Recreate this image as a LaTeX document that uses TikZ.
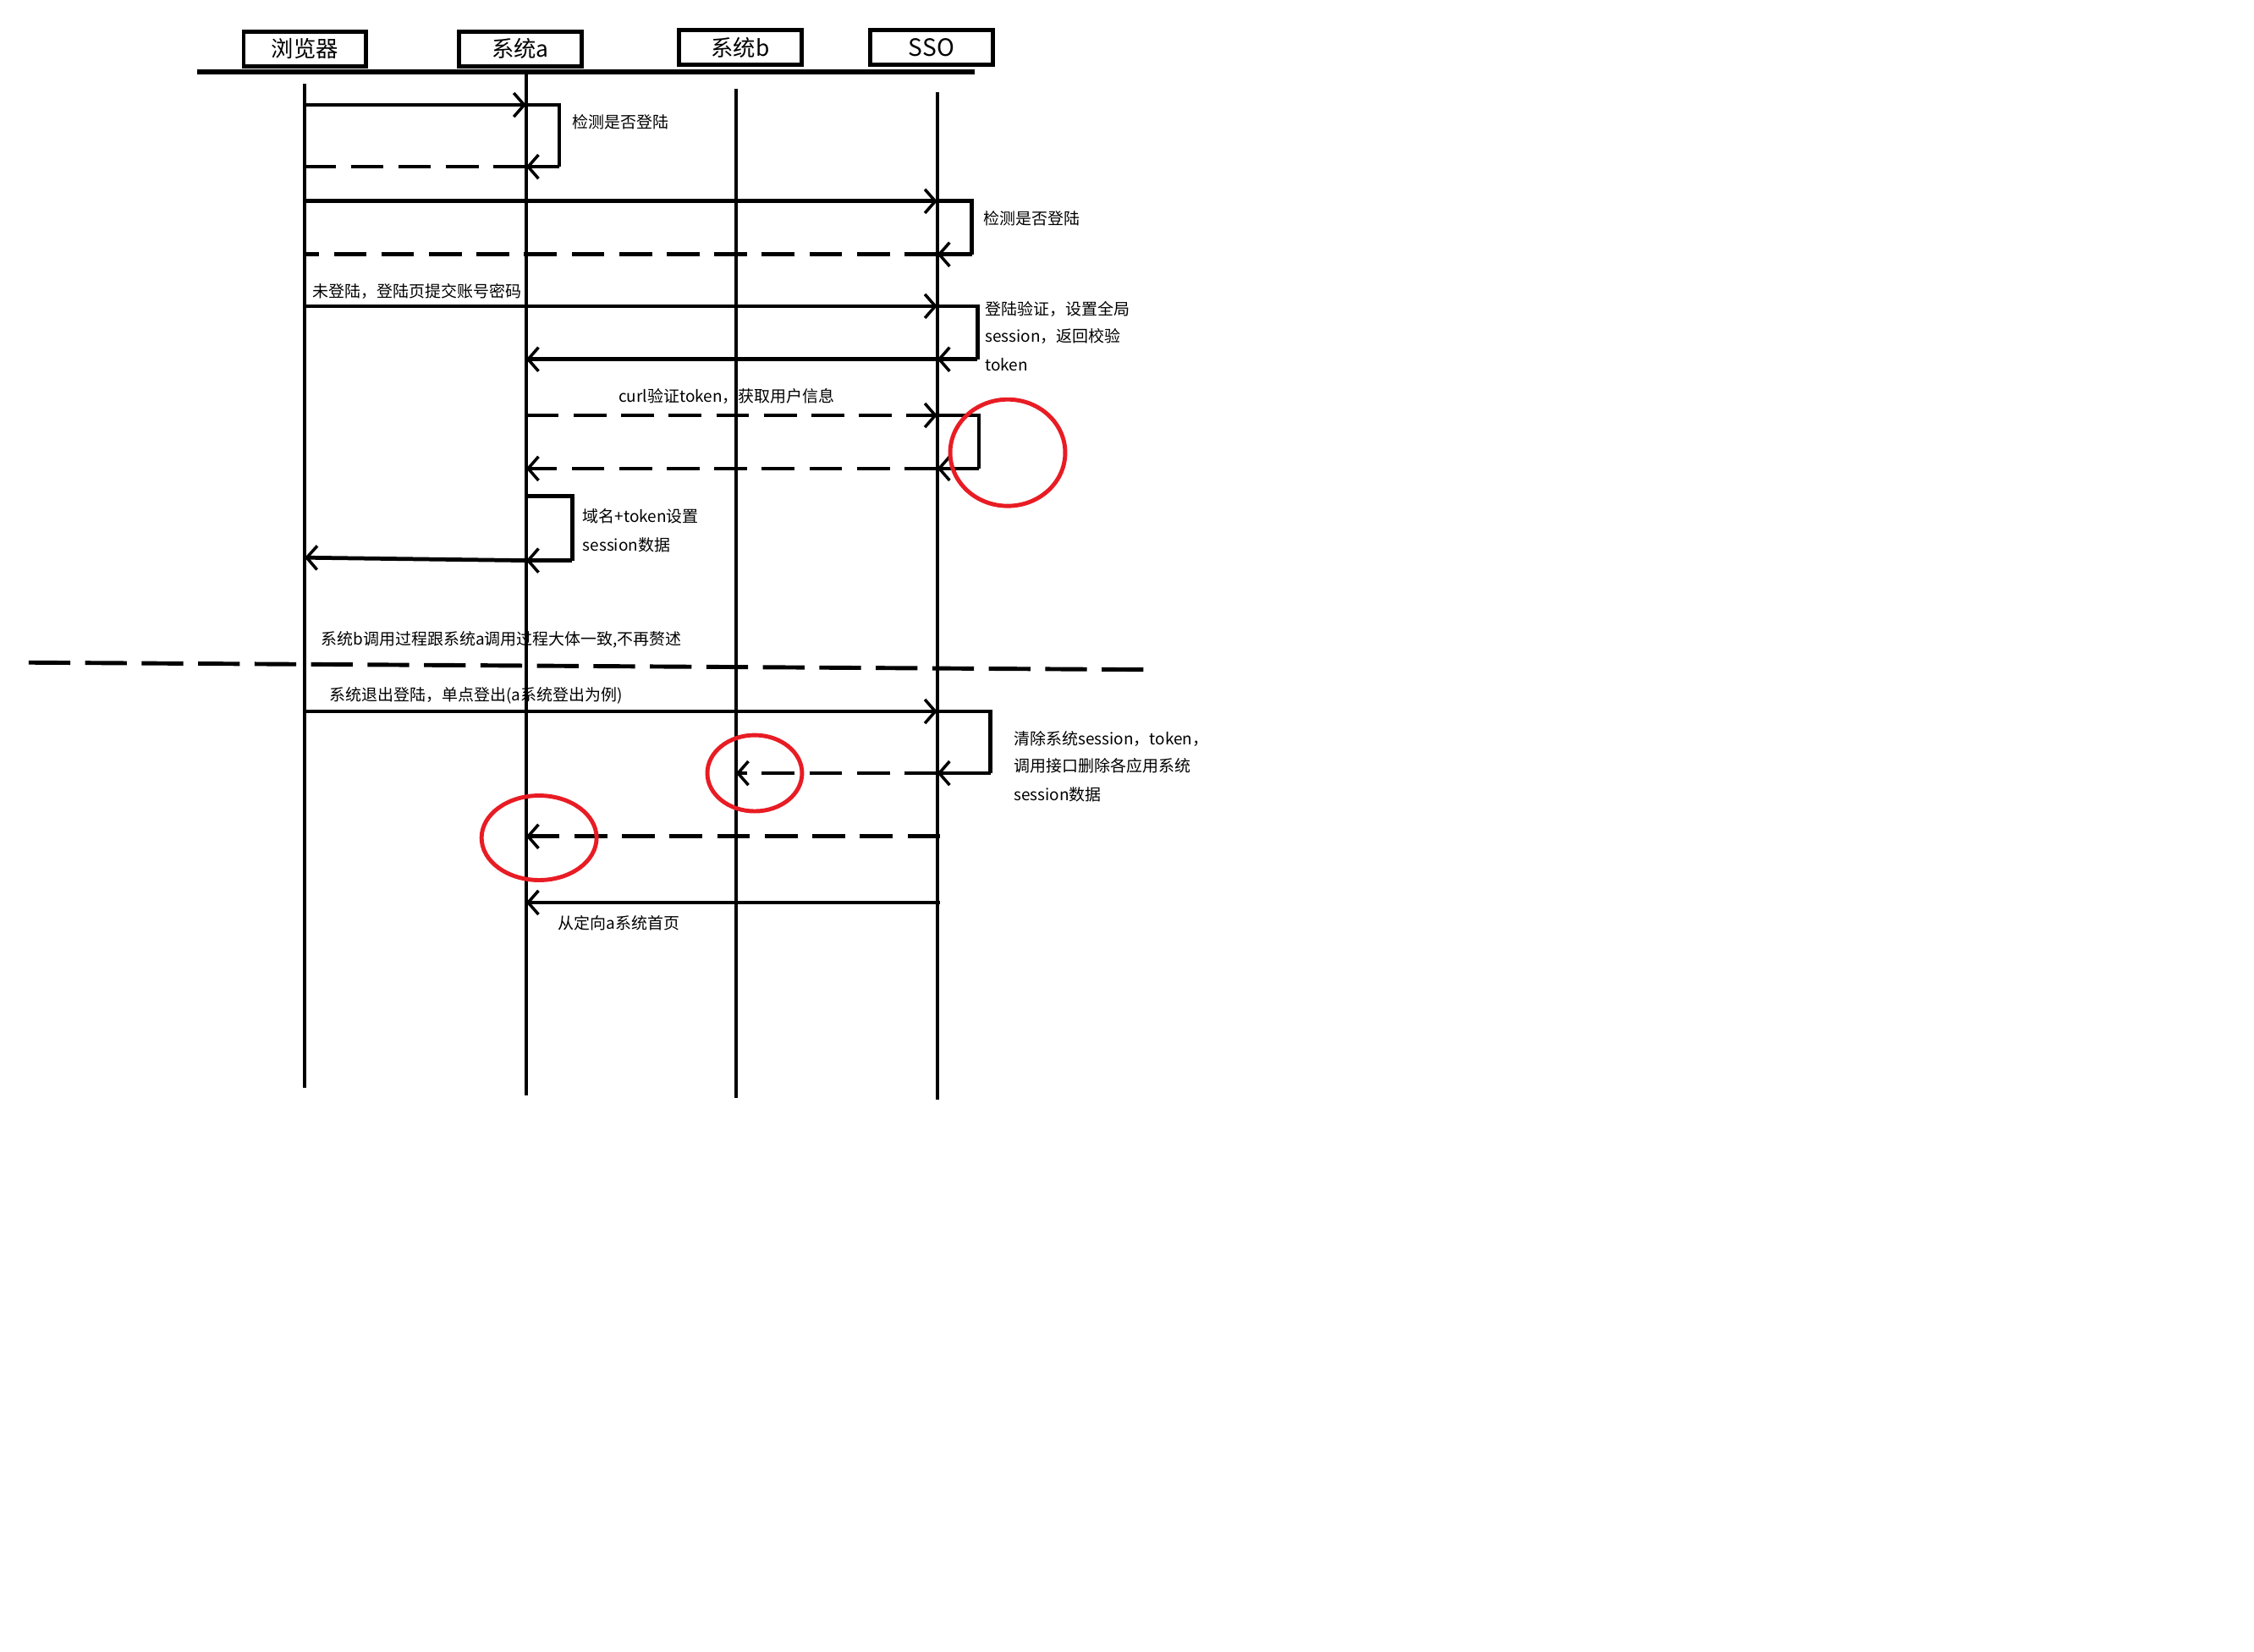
\documentclass[tikz,border=0pt]{standalone}
\usepackage{fontspec}
\setmainfont{Noto Sans CJK SC}
\usetikzlibrary{arrows.meta}
\definecolor{redc}{RGB}{232,28,36}
\begin{document}
\begin{tikzpicture}[x=0.017cm,y=-0.017cm,
  hdr/.style={draw,line width=1.4pt,minimum width=1.445cm,minimum height=0.41cm,inner sep=0pt,font=\fontsize{7.5}{9}\selectfont},
  msg/.style={line width=1.35pt},
  life/.style={line width=1.05pt},
  tip/.style={-{Straight Barb[length=3.5pt,width=8pt,line width=1pt]}},
  dsh/.style={dash pattern=on 11pt off 5pt},
  lbl/.style={font=\fontsize{5.4}{6.5}\selectfont,anchor=west,inner sep=0pt},
  redcirc/.style={draw=redc,line width=1.4pt}]
\useasboundingbox (0,0) rectangle (1568,1149);
% headers
\node[hdr] (hb) at (212,34) {浏览器};
\node[hdr] (ha) at (362,34) {系统a};
\node[hdr] (hbb) at (515,33) {系统b};
\node[hdr,font=\fontsize{8}{9}\selectfont] (hs) at (648,33) {SSO};
\coordinate (hl1) at (137,50); \coordinate (hl2) at (678,50);
\draw[line width=1.6pt] (hl1) -- (hl2);
% lifelines
\coordinate (lb1) at (212,58);  \coordinate (lb2) at (212,757);
\coordinate (la1) at (366,50);  \coordinate (la2) at (366,762);
\coordinate (lB1) at (512,62);  \coordinate (lB2) at (512,764);
\coordinate (ls1) at (652,64);  \coordinate (ls2) at (652,765);
\draw[life] (lb1) -- (lb2);
\draw[life] (la1) -- (la2);
\draw[life] (lB1) -- (lB2);
\draw[life] (ls1) -- (ls2);
% message 1
\coordinate (m1s) at (212,73); \coordinate (m1a) at (366,73); \coordinate (m1r) at (389,73);
\coordinate (m1r2) at (389,116); \coordinate (m1a2) at (366,116); \coordinate (m1b) at (212,116);
\draw[msg,tip] (m1s) -- (m1a);
\draw[msg] (m1a) -- (m1r) -- (m1r2);
\draw[msg,tip] (m1r2) -- (m1a2);
\draw[msg,dsh] (m1a2) -- (m1b);
\node[lbl] (t1) at (398,85) {检测是否登陆};
% message 2
\coordinate (m2s) at (212,140); \coordinate (m2a) at (652,140); \coordinate (m2r) at (676,140);
\coordinate (m2r2) at (676,177); \coordinate (m2a2) at (652,177); \coordinate (m2b) at (212,177);
\draw[msg,tip] (m2s) -- (m2a);
\draw[msg] (m2a) -- (m2r) -- (m2r2);
\draw[msg,tip] (m2r2) -- (m2a2);
\draw[msg,dsh] (m2a2) -- (m2b);
\node[lbl] (t2) at (684,152) {检测是否登陆};
% message 3
\node[lbl] (t3) at (217,203) {未登陆，登陆页提交账号密码};
\coordinate (m3s) at (212,213); \coordinate (m3a) at (652,213); \coordinate (m3r) at (680,213);
\coordinate (m3r2) at (680,250); \coordinate (m3a2) at (652,250); \coordinate (m3b) at (366,250);
\draw[msg,tip] (m3s) -- (m3a);
\draw[msg] (m3a) -- (m3r) -- (m3r2);
\draw[msg,tip] (m3r2) -- (m3a2);
\draw[msg,tip] (m3a2) -- (m3b);
\node[lbl] (t3a) at (685,215) {登陆验证，设置全局};
\node[lbl] (t3b) at (685,234) {session，返回校验};
\node[lbl] (t3c) at (685,254) {token};
% message 4
\node[lbl] (t4) at (430,276) {curl验证token，获取用户信息};
\coordinate (m4s) at (366,289); \coordinate (m4a) at (652,289); \coordinate (m4r) at (681,289);
\coordinate (m4r2) at (681,326); \coordinate (m4a2) at (652,326); \coordinate (m4b) at (366,326);
\draw[msg,dsh,tip] (m4s) -- (m4a);
\draw[msg] (m4a) -- (m4r) -- (m4r2);
\draw[msg,tip] (m4r2) -- (m4a2);
\draw[msg,dsh,tip] (m4a2) -- (m4b);
\draw[redcirc] (701,315) ellipse [x radius=0.68cm,y radius=0.63cm];
% message 5
\coordinate (m5a) at (366,345); \coordinate (m5r) at (398,345); \coordinate (m5r2) at (398,390);
\coordinate (m5a2) at (366,390); \coordinate (m5b) at (212,388);
\draw[msg] (m5a) -- (m5r) -- (m5r2);
\draw[msg,tip] (m5r2) -- (m5a2);
\draw[msg,tip] (m5a2) -- (m5b);
\node[lbl] (t5a) at (405,359) {域名+token设置};
\node[lbl] (t5b) at (405,379) {session数据};
% divider
\node[lbl] (t6) at (223,445) {系统b调用过程跟系统a调用过程大体一致,不再赘述};
\coordinate (dv1) at (20,461); \coordinate (dv2) at (802,466);
\draw[line width=1.4pt,dash pattern=on 14pt off 5pt] (dv1) -- (dv2);
% message 7
\node[lbl] (t7) at (229,484) {系统退出登陆，单点登出(a系统登出为例)};
\coordinate (m7s) at (212,495); \coordinate (m7a) at (652,495); \coordinate (m7r) at (689,495);
\coordinate (m7r2) at (689,538); \coordinate (m7a2) at (652,538); \coordinate (m7b) at (512,538);
\draw[msg,tip] (m7s) -- (m7a);
\draw[msg] (m7a) -- (m7r) -- (m7r2);
\draw[msg,tip] (m7r2) -- (m7a2);
\draw[msg,dsh,tip] (m7a2) -- (m7b);
\node[lbl] (t7a) at (705,514) {清除系统session，token，};
\node[lbl] (t7b) at (705,533) {调用接口删除各应用系统};
\node[lbl] (t7c) at (705,553) {session数据};
\draw[redcirc] (525,538) ellipse [x radius=0.56cm,y radius=0.45cm];
% message 8
\coordinate (m8s) at (654,582); \coordinate (m8b) at (366,582);
\draw[msg,dsh,tip] (m8s) -- (m8b);
\draw[redcirc] (375,583) ellipse [x radius=0.68cm,y radius=0.5cm];
% message 9
\coordinate (m9s) at (654,628); \coordinate (m9b) at (366,628);
\draw[msg,tip] (m9s) -- (m9b);
\node[lbl] (t9) at (388,642) {从定向a系统首页};
\end{tikzpicture}
\end{document}
